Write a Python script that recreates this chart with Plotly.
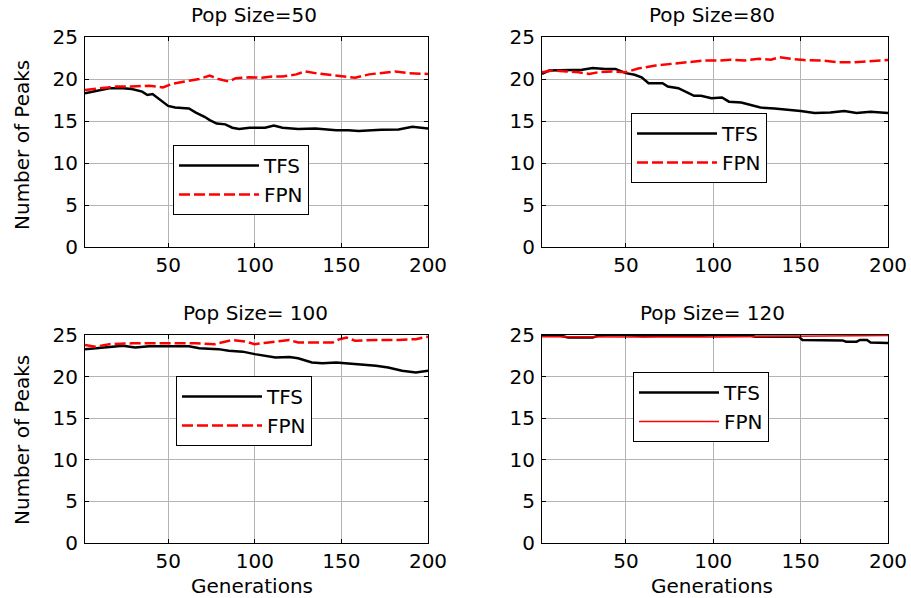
import plotly.graph_objects as go

# ---------------- data ----------------
titles = ["Pop Size=50", "Pop Size=80", "Pop Size= 100", "Pop Size= 120"]

p50_tfs_x = [2, 10, 16, 24, 29, 35, 38, 41, 43, 47, 50, 54, 62, 66, 71, 74, 78, 83, 87, 91, 97, 106, 111, 116, 125, 135, 147, 154, 160, 173, 183, 191, 200]
p50_tfs_y = [18.3, 18.65, 18.9, 18.9, 18.8, 18.5, 18.1, 18.2, 17.9, 17.3, 16.8, 16.6, 16.5, 16.0, 15.5, 15.1, 14.7, 14.6, 14.2, 14.05, 14.2, 14.2, 14.45, 14.2, 14.05, 14.1, 13.9, 13.9, 13.8, 13.95, 14.0, 14.3, 14.1]
p50_fpn_x = [2, 10, 20, 29, 39, 47, 52, 62, 68, 74, 79, 85, 89, 97, 104, 110, 116, 124, 129, 135, 143, 150, 158, 166, 174, 181, 189, 200]
p50_fpn_y = [18.7, 18.9, 19.1, 19.1, 19.2, 19.0, 19.4, 19.8, 20.0, 20.4, 20.0, 19.7, 20.1, 20.2, 20.15, 20.3, 20.3, 20.55, 20.9, 20.7, 20.5, 20.4, 20.15, 20.55, 20.7, 20.9, 20.7, 20.6]

p80_tfs_x = [2, 6, 12, 19, 25, 31, 34, 38, 44, 50, 55, 59, 63, 71, 74, 80, 85, 89, 93, 99, 105, 109, 116, 122, 127, 135, 143, 150, 158, 167, 175, 182, 190, 200]
p80_tfs_y = [20.6, 21.0, 21.05, 21.05, 21.1, 21.3, 21.25, 21.2, 21.2, 20.7, 20.5, 20.2, 19.5, 19.5, 19.1, 18.9, 18.4, 18.0, 18.0, 17.7, 17.8, 17.3, 17.2, 16.9, 16.6, 16.5, 16.35, 16.2, 15.95, 16.0, 16.2, 15.95, 16.1, 15.95]
p80_fpn_x = [2, 8, 16, 23, 29, 34, 42, 50, 57, 67, 76, 86, 95, 103, 110, 118, 126, 133, 138, 145, 152, 162, 171, 181, 190, 200]
p80_fpn_y = [20.8, 21.0, 20.9, 20.8, 20.6, 20.8, 20.9, 20.8, 21.25, 21.6, 21.8, 22.05, 22.2, 22.2, 22.3, 22.2, 22.4, 22.3, 22.6, 22.4, 22.25, 22.2, 22.0, 22.0, 22.15, 22.25]

p100_tfs_x = [2, 8, 16, 24, 31, 39, 50, 62, 68, 74, 79, 85, 93, 100, 106, 112, 120, 125, 133, 139, 147, 154, 164, 170, 177, 185, 193, 200]
p100_tfs_y = [23.3, 23.4, 23.6, 23.7, 23.5, 23.65, 23.65, 23.65, 23.4, 23.3, 23.3, 23.1, 23.0, 22.7, 22.5, 22.3, 22.35, 22.2, 21.7, 21.6, 21.7, 21.6, 21.4, 21.3, 21.1, 20.7, 20.5, 20.7]
p100_fpn_x = [2, 8, 16, 29, 50, 66, 77, 87, 95, 100, 108, 120, 125, 135, 145, 149, 153, 158, 170, 183, 193, 200]
p100_fpn_y = [23.8, 23.6, 23.9, 24.0, 24.0, 24.0, 23.9, 24.4, 24.2, 23.9, 24.1, 24.4, 24.1, 24.1, 24.1, 24.5, 24.7, 24.3, 24.4, 24.4, 24.5, 24.8]

p120_tfs_x = [2, 10, 14, 17, 31, 34, 40, 50, 60, 68, 93, 100, 121, 124, 149, 151, 174, 176, 182, 184, 188, 190, 200]
p120_tfs_y = [25.0, 25.0, 24.85, 24.7, 24.7, 24.9, 25.0, 25.0, 24.85, 24.9, 24.9, 25.0, 24.95, 24.8, 24.8, 24.4, 24.35, 24.2, 24.2, 24.4, 24.4, 24.1, 24.05]
p120_fpn_x = [2, 30, 60, 100, 130, 160, 200]
p120_fpn_y = [24.8, 24.75, 24.75, 24.75, 24.8, 24.85, 24.95]

x_ticks = [50, 100, 150, 200]
y_ticks = [0, 5, 10, 15, 20, 25]
series_names = ["TFS", "FPN"]

# ---------------- layout helpers ----------------
W, H = 911, 598
FONT = "DejaVu Sans"
FS = 20

def fx(px):
    return px / W

def fy(py):
    return 1 - py / H

# plot areas in pixels: (left, right, top, bottom)
areas = [(85, 428, 37, 247), (542, 888, 37, 247), (85, 428, 335, 543), (542, 888, 335, 543)]
legend_pos = [(173, 145), (631, 113), (176, 376), (633, 372)]
title_pos = [(254, 15), (712, 15), (255, 313), (712, 313)]

data = [
    (p50_tfs_x, p50_tfs_y, p50_fpn_x, p50_fpn_y),
    (p80_tfs_x, p80_tfs_y, p80_fpn_x, p80_fpn_y),
    (p100_tfs_x, p100_tfs_y, p100_fpn_x, p100_fpn_y),
    (p120_tfs_x, p120_tfs_y, p120_fpn_x, p120_fpn_y),
]

fig = go.Figure()
layout = dict(
    width=W, height=H,
    margin=dict(l=0, r=0, t=0, b=0, autoexpand=False),
    paper_bgcolor="white", plot_bgcolor="white",
    font=dict(family=FONT, size=FS, color="black"),
    showlegend=True,
    annotations=[],
)

for i, (tx, ty, fxs, fys) in enumerate(data):
    n = "" if i == 0 else str(i + 1)
    xa, ya = "x" + n, "y" + n
    leg = "legend" + n
    fpn_line = dict(color="#ff0000", width=1.5) if i == 3 else dict(color="#ff0000", width=2.5, dash="11px,4px")
    fig.add_trace(go.Scatter(x=tx, y=ty, mode="lines", name=series_names[0],
                             line=dict(color="black", width=2.5), xaxis=xa, yaxis=ya, legend=leg))
    fig.add_trace(go.Scatter(x=fxs, y=fys, mode="lines", name=series_names[1],
                             line=fpn_line, xaxis=xa, yaxis=ya, legend=leg))
    l, r, t, b = areas[i]
    axis_common = dict(showline=True, linecolor="black", linewidth=1, mirror="ticks",
                       ticks="inside", ticklen=4, tickcolor="black", tickwidth=1,
                       showgrid=True, gridcolor="#b4b4b4", gridwidth=1, zeroline=False,
                       automargin=False,
                       tickfont=dict(family=FONT, size=FS, color="black"))
    layout["xaxis" + n] = dict(domain=[fx(l), fx(r)], range=[2, 200], tickvals=x_ticks,
                               anchor=ya, **axis_common)
    layout["yaxis" + n] = dict(domain=[fy(b), fy(t)], range=[0, 25], tickvals=y_ticks,
                               anchor=xa, ticklabelstandoff=2, **axis_common)
    lx, ly = legend_pos[i]
    layout[leg] = dict(x=fx(lx), y=fy(ly), xanchor="left", yanchor="top",
                       bgcolor="white", bordercolor="black", borderwidth=1,
                       itemwidth=80,
                       font=dict(family=FONT, size=FS, color="black"),
                       tracegroupgap=0)
    tx_, ty_ = title_pos[i]
    layout["annotations"].append(dict(text=titles[i], x=fx(tx_), y=fy(ty_), xref="paper", yref="paper",
                                      xanchor="center", yanchor="middle", showarrow=False,
                                      font=dict(family=FONT, size=FS, color="black")))

# axis titles
for (x_, y_) in [(22, 145), (22, 440)]:
    layout["annotations"].append(dict(text="Number of Peaks", x=fx(x_), y=fy(y_), xref="paper", yref="paper",
                                      xanchor="center", yanchor="middle", textangle=-90, showarrow=False,
                                      font=dict(family=FONT, size=FS, color="black")))
for (x_, y_) in [(252, 586), (712, 586)]:
    layout["annotations"].append(dict(text="Generations", x=fx(x_), y=fy(y_), xref="paper", yref="paper",
                                      xanchor="center", yanchor="middle", showarrow=False,
                                      font=dict(family=FONT, size=FS, color="black")))

fig.update_layout(**layout)
fig.write_html("out.html")
